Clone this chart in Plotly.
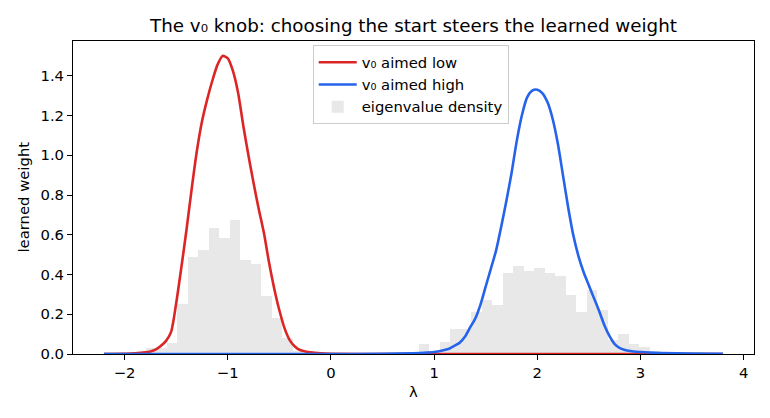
import numpy as np
import plotly.graph_objects as go

# ---- data ----
bin_lo, bin_hi, n_bins = -2.2, 3.8, 59
density = [
    0.008, 0.008, 0.005, 0.010, 0.030, 0.030, 0.057, 0.250, 0.487, 0.522,
    0.634, 0.584, 0.673, 0.472, 0.453, 0.290, 0.180, 0.080, 0.013, 0.005,
    0.0, 0.0, 0.0, 0.0, 0.0, 0.0, 0.0, 0.0, 0.006, 0.008,
    0.049, 0.012, 0.060, 0.126, 0.126, 0.213, 0.272, 0.247, 0.410, 0.443,
    0.418, 0.431, 0.406, 0.393, 0.297, 0.213, 0.322, 0.222, 0.070, 0.100,
    0.049, 0.034, 0.015, 0.005, 0.0, 0.0, 0.0, 0.0, 0.0,
]

low_x = [-2.2, -2.0, -1.9, -1.8, -1.75, -1.7, -1.65, -1.6, -1.55, -1.5, -1.45, -1.4,
         -1.35, -1.3, -1.25, -1.2, -1.15, -1.1, -1.05, -1.0, -0.95, -0.9, -0.85,
         -0.8, -0.75, -0.7, -0.65, -0.6, -0.55, -0.5, -0.45, -0.4, -0.35, -0.3,
         -0.25, -0.2, -0.1, 0.0, 0.5, 1.0, 2.0, 3.0, 3.8]
low_y = [0.0, 0.001, 0.003, 0.008, 0.013, 0.022, 0.040, 0.065, 0.110, 0.255, 0.435, 0.625,
         0.830, 1.020, 1.170, 1.280, 1.375, 1.455, 1.500, 1.488, 1.425, 1.315, 1.150,
         1.000, 0.860, 0.730, 0.610, 0.460, 0.330, 0.220, 0.130, 0.070, 0.038, 0.020,
         0.013, 0.008, 0.003, 0.001, 0.0, 0.0, 0.0, 0.0, 0.0]

high_x = [-2.2, -1.0, 0.0, 0.5, 0.8, 0.9, 1.0, 1.1, 1.15, 1.2, 1.25, 1.3, 1.35, 1.4,
          1.45, 1.5, 1.55, 1.6, 1.65, 1.7, 1.75, 1.8, 1.85, 1.9, 1.95, 2.0, 2.05,
          2.1, 2.15, 2.2, 2.25, 2.3, 2.35, 2.4, 2.45, 2.5, 2.55, 2.6, 2.65, 2.7,
          2.75, 2.8, 2.9, 3.0, 3.2, 3.5, 3.8]
high_y = [0.0, 0.0, 0.0, 0.001, 0.004, 0.006, 0.010, 0.020, 0.028, 0.042, 0.058, 0.088,
          0.135, 0.180, 0.250, 0.340, 0.430, 0.520, 0.640, 0.770, 0.910, 1.070,
          1.200, 1.290, 1.325, 1.330, 1.312, 1.265, 1.180, 1.055, 0.895, 0.735,
          0.595, 0.490, 0.410, 0.345, 0.280, 0.215, 0.145, 0.090, 0.050, 0.030,
          0.015, 0.010, 0.005, 0.002, 0.001]

x_ticks = [-2, -1, 0, 1, 2, 3, 4]
x_tick_text = ["\u22122", "\u22121", "0", "1", "2", "3", "4"]
y_ticks = [0.0, 0.2, 0.4, 0.6, 0.8, 1.0, 1.2, 1.4]

# ---- figure ----
edges = np.linspace(bin_lo, bin_hi, n_bins + 1)
centers = (edges[:-1] + edges[1:]) / 2
width = edges[1] - edges[0]

FONT = "DejaVu Sans"
FS = 14.8
fig = go.Figure()
fig.add_trace(go.Bar(x=centers, y=density, width=width, marker=dict(color="#e8e8e8", line=dict(width=0)),
                     name="eigenvalue density", legendrank=3, hoverinfo="skip"))
fig.add_trace(go.Scatter(x=low_x, y=low_y, mode="lines", line=dict(color="#dc2626", width=2.6, shape="spline", smoothing=0.7),
                         name="v\u2080 aimed low", legendrank=1))
fig.add_trace(go.Scatter(x=high_x, y=high_y, mode="lines", line=dict(color="#2563eb", width=2.6, shape="spline", smoothing=0.7),
                         name="v\u2080 aimed high", legendrank=2))

axis_common = dict(showline=True, linecolor="black", linewidth=1, mirror=True, ticks="outside",
                   ticklen=5, tickwidth=1, tickcolor="black", showgrid=False, zeroline=False,
                   tickfont=dict(family=FONT, size=FS, color="black"))
fig.update_xaxes(range=[-2.5, 4.1], tickvals=x_ticks, ticktext=x_tick_text, **axis_common)
fig.update_yaxes(range=[0, 1.575], tickvals=y_ticks, tickformat=".1f", **axis_common)

fig.update_layout(
    width=770, height=418,
    margin=dict(l=73, r=16, t=41, b=64),
    plot_bgcolor="white", paper_bgcolor="white",
    bargap=0,
    font=dict(family=FONT, size=FS, color="black"),
    title=dict(text="The v\u2080 knob: choosing the start steers the learned weight",
               x=0.5, xref="paper", xanchor="center", y=1 - 26 / 418, yref="container", yanchor="middle",
               font=dict(family=FONT, size=18.3, color="black")),
    legend=dict(x=0.352, y=0.987, xanchor="left", yanchor="top", bgcolor="rgba(255,255,255,0.8)",
                bordercolor="#cccccc", borderwidth=1, font=dict(family=FONT, size=FS, color="black"),
                tracegroupgap=0, itemwidth=38),
    annotations=[
        dict(text="\u03bb", xref="paper", yref="paper", x=0.5, y=-0.121, xanchor="center", yanchor="middle",
             showarrow=False, font=dict(family=FONT, size=FS, color="black")),
        dict(text="learned weight", xref="paper", yref="paper", x=-0.0734, y=0.5, xanchor="center",
             yanchor="middle", textangle=-90, showarrow=False, font=dict(family=FONT, size=FS, color="black")),
    ],
)

fig.write_html("out.html")
